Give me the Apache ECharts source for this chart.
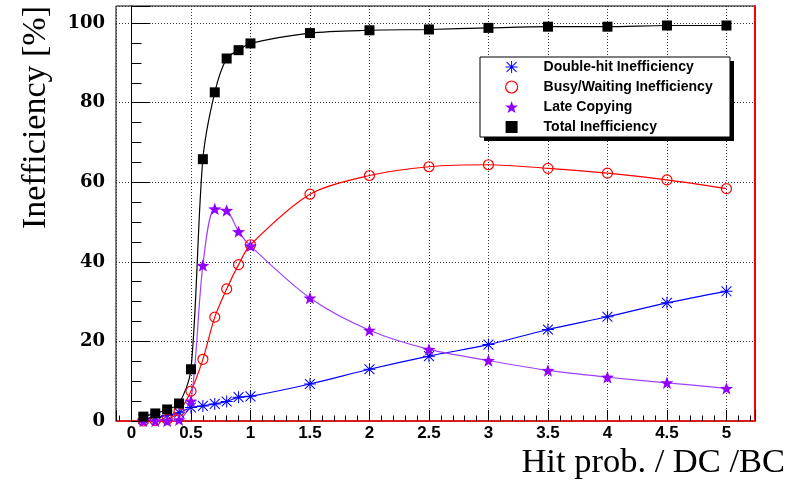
<!DOCTYPE html>
<html>
<head>
<meta charset="utf-8">
<script src="https://cdn.jsdelivr.net/npm/echarts@6/dist/echarts.min.js"></script>
<style>
html,body{margin:0;padding:0;background:#fff;}
#chart{width:802px;height:480px;}
</style>
</head>
<body>
<div id="chart"></div>
<script>
// ---- data ----
const hitProb = [0.1, 0.2, 0.3, 0.4, 0.5, 0.6, 0.7, 0.8, 0.9, 1.0, 1.5, 2, 2.5, 3, 3.5, 4, 4.5, 5];
const doubleHit = [0.5, 0.9, 1.4, 2.1, 3.4, 3.8, 4.3, 4.9, 6.0, 6.2, 9.3, 13.0, 16.3, 19.2, 23.0, 26.2, 29.7, 32.6];
const busyWaiting = [0.0, 0.1, 0.4, 2.5, 7.5, 15.5, 26.1, 33.2, 39.3, 44.3, 57.0, 61.7, 63.9, 64.4, 63.5, 62.3, 60.6, 58.4];
const lateCopying = [0.0, 0.0, 0.0, 0.3, 5.0, 39.1, 53.3, 52.9, 47.6, 44.0, 30.9, 22.8, 18.0, 15.2, 12.7, 11.0, 9.6, 8.2];
const totalIneff = [1.1, 1.9, 2.9, 4.4, 13.0, 65.8, 82.6, 91.1, 93.2, 94.9, 97.5, 98.2, 98.4, 98.8, 99.1, 99.1, 99.4, 99.4];
const seriesNames = ['Double-hit Inefficiency', 'Busy/Waiting Inefficiency', 'Late Copying', 'Total Inefficiency'];
const xTitle = 'Hit prob. / DC /BC';
const yTitle = 'Inefficiency [%]';

const pair = (ys) => hitProb.map((x, i) => [x, ys[i]]);

const ASTERISK = 'path://M0 11 H24 V13 H0 Z M11 0 H13 V24 H11 Z M1.4 2.8 L2.8 1.4 L22.6 21.2 L21.2 22.6 Z M21.2 1.4 L22.6 2.8 L2.8 22.6 L1.4 21.2 Z';
const STAR = 'path://M12 0 L14.94 7.95 L23.41 8.29 L16.76 13.55 L19.05 21.71 L12 17 L4.95 21.71 L7.24 13.55 L0.59 8.29 L9.06 7.95 Z';
const SQUARE = 'path://M0 0 H10 V10 H0 Z';

const BLUE = '#0000ff', RED = '#ff0000', PURPLE = '#9400ff', BLACK = '#000000';

const chart = echarts.init(document.getElementById('chart'), null, {renderer: 'canvas'});
chart.setOption({
  animation: false,
  backgroundColor: '#fff',
  grid: {left: 116, top: 6, right: 47, bottom: 58, show: true, borderColor: '#000', borderWidth: 1, backgroundColor: 'transparent'},
  xAxis: {
    type: 'value', min: -0.13, max: 5.24, splitNumber: 10,
    name: xTitle, nameLocation: 'end', nameGap: 30, nameMoveOverlap: false,
    nameTextStyle: {fontFamily: 'Liberation Serif', fontSize: 34.5, color: '#000', align: 'right', verticalAlign: 'top', padding: [24, 0, 0, 0]},
    axisLine: {show: true, lineStyle: {color: '#ff0000', width: 1.5}},
    axisTick: {show: true, inside: true, length: 11, lineStyle: {color: '#000'}},
    minorTick: {show: true, splitNumber: 5, length: 5.5, lineStyle: {color: '#000'}},
    axisLabel: {showMinLabel: false, showMaxLabel: false, margin: 4, color: '#000', fontFamily: 'Liberation Sans', fontWeight: 'bold', fontSize: 17, formatter: (v) => String(v)},
    splitLine: {show: true, lineStyle: {color: '#333', type: [1, 2], width: 1}}
  },
  yAxis: [{
    type: 'value', min: 0, max: 104.3, splitNumber: 5,
    name: yTitle, nameLocation: 'end', nameGap: 0, nameRotate: 90, nameMoveOverlap: false,
    nameTextStyle: {fontFamily: 'Liberation Serif', fontSize: 34, color: '#000', align: 'right', verticalAlign: 'bottom', padding: [0, 0, 78, 0]},
    axisLine: {show: true, lineStyle: {color: '#000', width: 1}},
    axisTick: {show: true, inside: true, length: 19, lineStyle: {color: '#000'}},
    minorTick: {show: true, splitNumber: 4, length: 10, lineStyle: {color: '#000'}},
    axisLabel: {showMaxLabel: false, margin: 11, color: '#000', fontFamily: 'DejaVu Serif', fontWeight: 'bold', fontSize: 18},
    splitLine: {show: true, lineStyle: {color: '#333', type: [1, 2], width: 1}}
  }, {
    type: 'value', min: 0, max: 104.3, position: 'right',
    axisLine: {show: true, lineStyle: {color: '#ff0000', width: 2}},
    axisTick: {show: false}, axisLabel: {show: false}, splitLine: {show: false}
  }],
  legend: {
    orient: 'vertical', left: 505, top: 57, padding: 0, itemGap: 0,
    itemWidth: 54, itemHeight: 12, symbolKeepAspect: true, z: 10,
    textStyle: {fontFamily: 'Liberation Sans', fontWeight: 'bold', fontSize: 14, color: '#000', lineHeight: 20},
    data: [
      {name: seriesNames[0], icon: ASTERISK, itemStyle: {color: BLUE}},
      {name: seriesNames[1], icon: 'circle', itemStyle: {color: 'rgba(255,255,255,0)', borderColor: RED, borderWidth: 1.2}},
      {name: seriesNames[2], icon: STAR, itemStyle: {color: PURPLE}},
      {name: seriesNames[3], icon: SQUARE, itemStyle: {color: BLACK}}
    ]
  },
  graphic: [
    {type: 'rect', z: 8, shape: {x: 484, y: 61, width: 250, height: 80}, style: {fill: '#000'}},
    {type: 'rect', z: 9, shape: {x: 480, y: 57, width: 250, height: 80}, style: {fill: '#fff', stroke: '#000', lineWidth: 1}}
  ],
  series: [
    {name: seriesNames[0], type: 'line', data: pair(doubleHit), smooth: 0.3, symbol: ASTERISK, symbolSize: 12, symbolKeepAspect: true,
     itemStyle: {color: BLUE}, lineStyle: {color: BLUE, width: 1.2}},
    {name: seriesNames[1], type: 'line', data: pair(busyWaiting), smooth: 0.3, symbol: 'circle', symbolSize: 10,
     itemStyle: {color: 'rgba(255,255,255,0)', borderColor: RED, borderWidth: 1.2}, lineStyle: {color: RED, width: 1.2}},
    {name: seriesNames[2], type: 'line', data: pair(lateCopying), smooth: 0.3, symbol: STAR, symbolSize: 13, symbolKeepAspect: true,
     itemStyle: {color: PURPLE}, lineStyle: {color: '#a040ff', width: 1.2}},
    {name: seriesNames[3], type: 'line', data: pair(totalIneff), smooth: 0.3, symbol: SQUARE, symbolSize: 10, symbolKeepAspect: true,
     itemStyle: {color: BLACK}, lineStyle: {color: BLACK, width: 1.2}}
  ]
});
</script>
</body>
</html>
